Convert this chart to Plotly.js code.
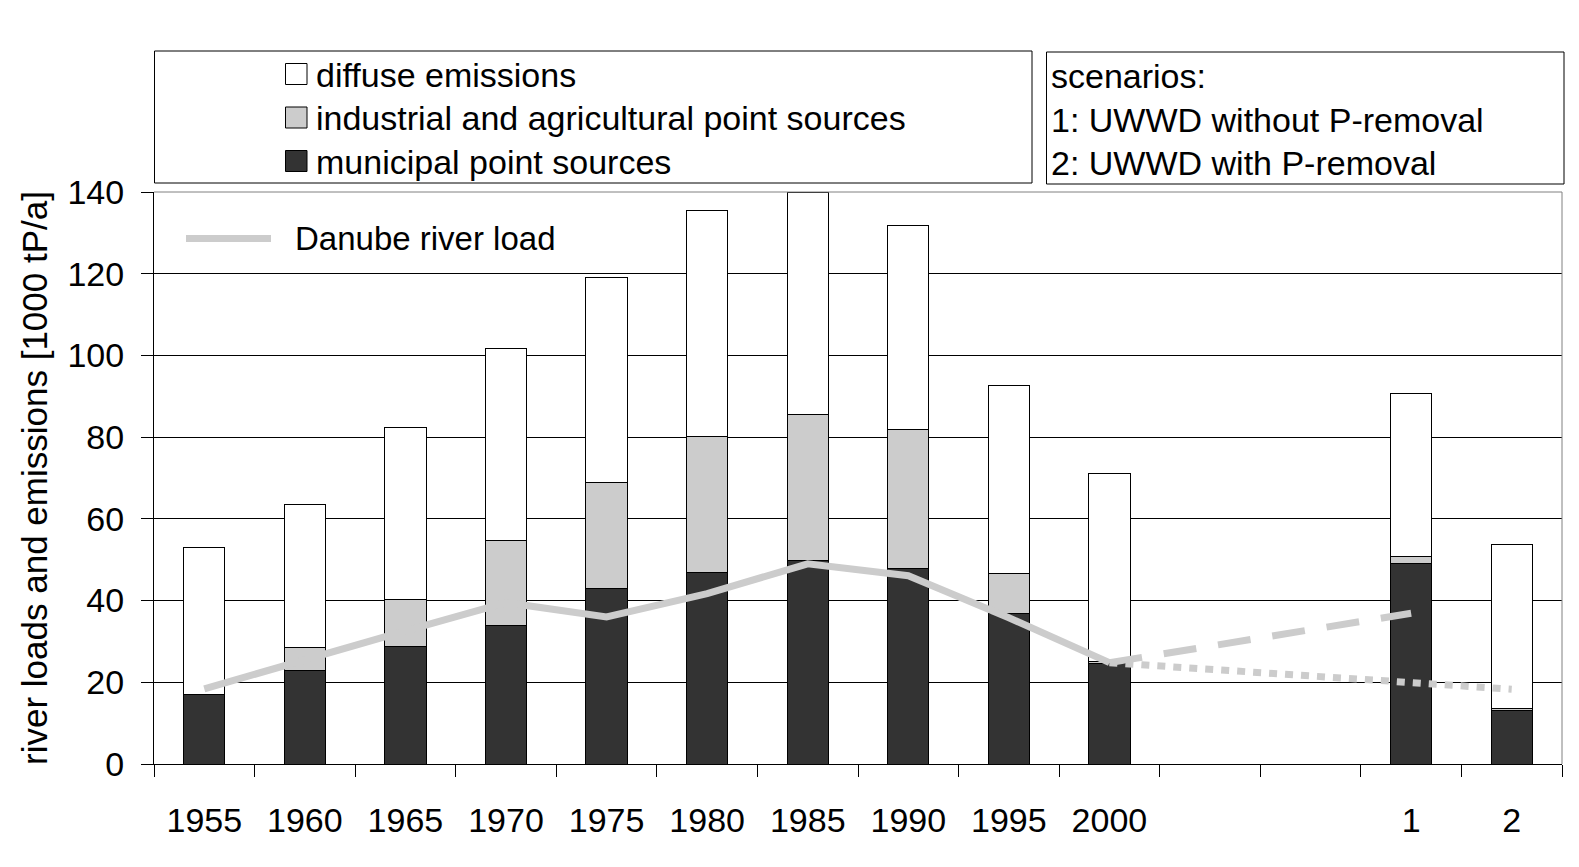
<!DOCTYPE html>
<html><head><meta charset="utf-8">
<script src="https://cdn.plot.ly/plotly-3.0.1.min.js"></script>
<style>html,body{margin:0;padding:0;background:#fff;} #chart{width:1579px;height:867px;}</style>
</head><body><div id="chart"></div>
<script>
// ---- data ----
const categories = ['1955','1960','1965','1970','1975','1980','1985','1990','1995','2000','\u200b','\u200b\u200b','1','2'];
const municipal  = [16.9, 23.0, 28.8, 34.0, 43.0, 46.9, 49.7, 47.8, 36.8, 24.5, null, null, 49.0, 13.2];
const industrial = [0.0,  5.6, 11.5, 20.8, 26.0, 33.3, 35.9, 34.1,  9.8,  0.7, null, null,  1.8,  0.4];
const diffuse    = [36.2, 35.0, 42.1, 46.9, 50.0, 55.2, 54.2, 50.0, 46.1, 45.9, null, null, 40.0, 40.2];
const loadYears  = ['1955','1960','1965','1970','1975','1980','1985','1990','1995','2000'];
const danubeLoad = [18.4, 25.7, 32.6, 39.5, 36.0, 41.7, 49.0, 46.1, 35.8, 24.8];
const scen1X = ['2000','1'];
const scen1Load = [24.8, 36.9];
const scen2X = ['2000','1','2'];
const scen2Load = [24.8, 19.9, 18.3];
const yTicks = [0,20,40,60,80,100,120,140];
const barLegendNames = ['diffuse emissions','industrial and agricultural point sources','municipal point sources'];
const scenarioLines = ['scenarios:','1: UWWD without P-removal','2: UWWD with P-removal'];
const lineLegendName = 'Danube river load';
const yTitle = 'river loads and emissions [1000 tP/a]';

// ---- style ----
const FONT = '"Liberation Sans", Arial, sans-serif';
const C_MUN = '#333333', C_IND = '#cccccc', C_DIF = '#ffffff', C_LINE = '#cccccc';
const L = 154, R = 17, T = 192, B = 103, W = 1579, H = 867;
const PW = W - L - R, PH = H - T - B;
const px = p => (p - L) / PW;
const py = p => (H - B - p) / PH;

const barBase = {type:'bar', x:categories, width:0.41, showlegend:false, hoverinfo:'y'};
const traces = [
  Object.assign({}, barBase, {y:municipal, name:barLegendNames[2], marker:{color:C_MUN, line:{color:'#000', width:1}}}),
  Object.assign({}, barBase, {y:industrial, name:barLegendNames[1], marker:{color:C_IND, line:{color:'#000', width:1}}}),
  Object.assign({}, barBase, {y:diffuse, name:barLegendNames[0], marker:{color:C_DIF, line:{color:'#000', width:1}}}),
  {type:'scatter', mode:'lines', x:loadYears, y:danubeLoad, name:lineLegendName, line:{color:C_LINE, width:7}, showlegend:false},
  {type:'scatter', mode:'lines', x:scen1X, y:scen1Load, name:'scenario 1', line:{color:C_LINE, width:7, dash:'33px,22px'}, showlegend:false},
  {type:'scatter', mode:'lines', x:scen2X, y:scen2Load, name:'scenario 2', line:{color:C_LINE, width:7, dash:'8px,8px'}, showlegend:false}
];

const shapes = [
  {type:'line', xref:'paper', yref:'paper', x0:0, x1:1, y0:1, y1:1, line:{color:'#808080', width:1}},
  {type:'line', xref:'paper', yref:'paper', x0:1, x1:1, y0:0, y1:1, line:{color:'#808080', width:1}},
  {type:'rect', xref:'paper', yref:'paper', x0:px(154.5), x1:px(1032), y0:py(183), y1:py(51), line:{color:'#000', width:1}},
  {type:'rect', xref:'paper', yref:'paper', x0:px(1046.5), x1:px(1564), y0:py(184), y1:py(52), line:{color:'#000', width:1}},
  {type:'line', xref:'paper', yref:'paper', x0:px(186), x1:px(271), y0:py(238.5), y1:py(238.5), line:{color:C_LINE, width:7}}
];
const rowY = [75, 118.5, 162];
const sqColors = [C_DIF, C_IND, C_MUN];
const annotations = [];
for (let i = 0; i < 3; i++) {
  shapes.push({type:'rect', xref:'paper', yref:'paper', x0:px(285.5), x1:px(307), y0:py(rowY[i]+9.5), y1:py(rowY[i]-11.5),
    fillcolor:sqColors[i], line:{color:'#000', width:1}});
  annotations.push({xref:'paper', yref:'paper', x:px(314), y:py(rowY[i]), xanchor:'left', yanchor:'middle',
    text:barLegendNames[i], showarrow:false, font:{family:FONT, size:34, color:'#000'}});
  annotations.push({xref:'paper', yref:'paper', x:px(1049), y:py(rowY[i]+1), xanchor:'left', yanchor:'middle',
    text:scenarioLines[i], showarrow:false, font:{family:FONT, size:34, color:'#000'}});
}
annotations.push({xref:'paper', yref:'paper', x:px(293), y:py(238), xanchor:'left', yanchor:'middle',
  text:lineLegendName, showarrow:false, font:{family:FONT, size:33, color:'#000'}});

const layout = {
  width:W, height:H,
  margin:{l:L, r:R, t:T, b:B, pad:0},
  paper_bgcolor:'#fff', plot_bgcolor:'#fff',
  font:{family:FONT, color:'#000'},
  barmode:'stack', showlegend:false,
  xaxis:{type:'category', categoryorder:'array', categoryarray:categories, tickson:'boundaries',
    ticks:'outside', ticklen:12, tickwidth:1, tickcolor:'#000', showgrid:false, showline:true, linecolor:'#000', linewidth:1,
    tickfont:{family:FONT, size:34, color:'#000'}, ticklabelstandoff:26, range:[-0.5, 13.5], fixedrange:true},
  yaxis:{range:[0,140], tickvals:yTicks, ticks:'outside', ticklen:12, tickwidth:1, tickcolor:'#000',
    showgrid:true, gridcolor:'#000', gridwidth:1, zeroline:false, showline:true, linecolor:'#000', linewidth:1,
    tickfont:{family:FONT, size:34, color:'#000'}, ticklabelstandoff:10,
    title:{text:yTitle, font:{family:FONT, size:35, color:'#000'}, standoff:9}},
  shapes:shapes, annotations:annotations
};
Plotly.newPlot('chart', traces, layout, {staticPlot:true, displayModeBar:false});
</script></body></html>
